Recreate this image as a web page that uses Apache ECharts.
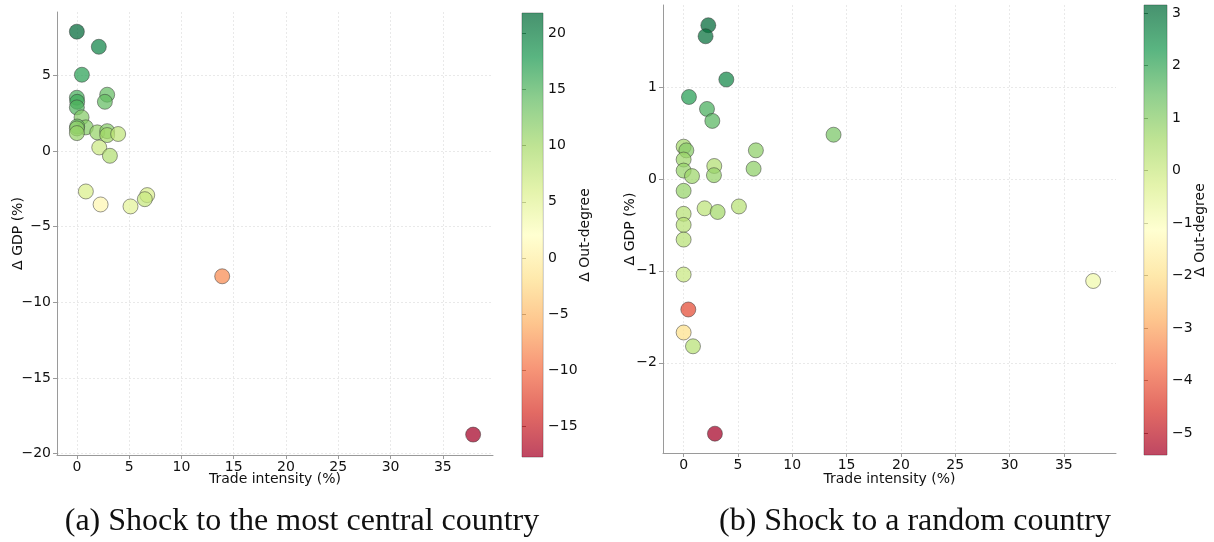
<!DOCTYPE html>
<html>
<head>
<meta charset="utf-8">
<script src="https://cdn.jsdelivr.net/npm/echarts@6/dist/echarts.min.js"></script>
<style>
  html, body { margin: 0; padding: 0; background: #fff; }
  #chart { width: 1214px; height: 542px; }
</style>
</head>
<body>
<div id="chart"></div>
<script>
// (a) shock to the most central country
const tradeA = [0, 2.1, 0.48, 0, 2.9, 2.68, 0.03, 0, 0.45, 0.86, 0.03, 0, 0, 1.95, 2.9, 2.9, 3.95, 2.14, 3.16, 0.86, 2.27, 5.13, 6.73, 6.5, 13.9, 37.9];
const gdpA = [7.9, 6.9, 5.05, 3.53, 3.73, 3.26, 3.26, 2.89, 2.23, 1.57, 1.63, 1.5, 1.19, 1.24, 1.32, 1.06, 1.13, 0.24, -0.31, -2.67, -3.53, -3.66, -2.91, -3.18, -8.28, -18.75];
const outDegA = [21.8, 19.5, 17, 15.5, 14, 14, 16, 15, 12, 12, 13.5, 11.5, 11, 11, 12, 10, 8, 7, 9, 6, 1, 5, 6, 7.5, -8, -17.7];

// (b) shock to a random country
const tradeB = [2.27, 2.02, 3.93, 0.49, 2.15, 2.64, 13.8, 0, 0.25, 6.65, 0, 2.82, 6.44, 0, 0.77, 2.79, 0, 1.93, 5.09, 3.13, 0, 0, 0, 0, 0.43, 0, 0.86, 2.88, 37.7];
const gdpB = [1.67, 1.55, 1.08, 0.89, 0.76, 0.63, 0.48, 0.35, 0.31, 0.31, 0.21, 0.14, 0.11, 0.09, 0.03, 0.04, -0.13, -0.32, -0.30, -0.36, -0.38, -0.50, -0.66, -1.04, -1.42, -1.67, -1.82, -2.77, -1.11];
const outDegB = [3.15, 3.0, 2.6, 2.2, 1.8, 1.6, 1.2, 0.6, 1.0, 0.9, 0.7, 0.4, 0.9, 0.8, 0.7, 0.8, 0.8, 0.2, 0.3, 0.6, 0.3, 0.3, 0.3, 0, -4.2, -2, 0.3, -5.42, -0.8];

// tick labels
const xTicks = [0, 5, 10, 15, 20, 25, 30, 35];
const yTicksA = [-20, -15, -10, -5, 0, 5];
const yTicksB = [-2, -1, 0, 1];
const cTicksA = [-15, -10, -5, 0, 5, 10, 15, 20];
const cTicksB = [-5, -4, -3, -2, -1, 0, 1, 2, 3];

const captionA = '(a) Shock to the most central country';
const captionB = '(b) Shock to a random country';

// RdYlGn colormap
const RDYLGN = ['#a50026', '#d73027', '#f46d43', '#fdae61', '#fee08b', '#ffffbf',
                '#d9ef8b', '#a6d96a', '#66bd63', '#1a9850', '#006837'];

const FONT = 'DejaVu Sans';
const minus = v => String(v).replace('-', '\u2212');

const rangeOf = arr => [Math.min(...arr), Math.max(...arr)];
const [cMinA, cMaxA] = rangeOf(outDegA);
const [cMinB, cMaxB] = rangeOf(outDegB);

const zip = (x, y, c) => x.map((v, i) => [v, y[i], c[i]]);

const gradient = () => new echarts.graphic.LinearGradient(0, 1, 0, 0,
  RDYLGN.map((c, i) => ({ offset: i / (RDYLGN.length - 1), color: c })));

function colorbarItem(params, api) {
  const lo = api.coord([0, api.value(1)]);
  const hi = api.coord([1, api.value(2)]);
  return {
    type: 'rect',
    shape: { x: lo[0], y: hi[1], width: hi[0] - lo[0], height: lo[1] - hi[1] },
    style: { fill: gradient(), opacity: 0.72 }
  };
}

const spine = { show: true, lineStyle: { color: '#9a9a9a', width: 1 } };
const grid = { show: true, lineStyle: { color: '#e4e4e4', width: 0.8, type: [2, 2] } };
const labelStyle = { color: '#111', fontFamily: FONT, fontSize: 14 };
const nameStyle = { color: '#111', fontFamily: FONT, fontSize: 14 };

function mainX(gridIndex, gap) {
  return {
    type: 'value', gridIndex, min: -1.9, max: 39.8,
    name: 'Trade intensity (%)', nameLocation: 'middle', nameGap: gap, nameMoveOverlap: false, nameTextStyle: nameStyle,
    axisLine: { ...spine, onZero: false },
    axisTick: { show: true, length: 4, lineStyle: { color: '#9a9a9a' }, customValues: xTicks },
    axisLabel: { ...labelStyle, margin: 5, formatter: minus, customValues: xTicks },
    splitLine: { ...grid, customValues: xTicks }
  };
}
function mainY(gridIndex, min, max, ticks, gap) {
  return {
    type: 'value', gridIndex, min, max,
    name: '\u0394 GDP (%)', nameLocation: 'middle', nameGap: gap, nameMoveOverlap: false, nameRotate: 90, nameTextStyle: nameStyle,
    axisLine: { ...spine, onZero: false },
    axisTick: { show: true, length: 4, lineStyle: { color: '#9a9a9a' }, customValues: ticks },
    axisLabel: { ...labelStyle, margin: 6, formatter: minus, customValues: ticks },
    splitLine: { ...grid, customValues: ticks }
  };
}
function barX(gridIndex) {
  return { type: 'value', gridIndex, min: 0, max: 1, show: false };
}
function barY(gridIndex, min, max, ticks, gap) {
  return {
    type: 'value', gridIndex, min, max, position: 'right',
    name: '\u0394 Out-degree', nameLocation: 'middle', nameGap: gap, nameMoveOverlap: false, nameRotate: 90, nameTextStyle: nameStyle,
    axisLine: { show: false },
    axisTick: { show: true, length: 4, lineStyle: { color: '#555' }, customValues: ticks },
    axisLabel: { ...labelStyle, margin: 5, formatter: minus, customValues: ticks },
    splitLine: { show: false }
  };
}

const scatterStyle = { opacity: 0.72, borderColor: '#333', borderWidth: 0.7 };
const captionStyle = { fontFamily: 'Liberation Serif', fontSize: 32, fill: '#111', textAlign: 'center', textVerticalAlign: 'middle' };

const option = {
  animation: false,
  backgroundColor: '#fff',
  textStyle: { fontFamily: FONT },
  grid: [
    { left: 57, top: 12, width: 436, height: 443 },
    { left: 522, top: 13, width: 21, height: 444, show: true, borderColor: '#a8a8a8', borderWidth: 1, backgroundColor: 'transparent' },
    { left: 663, top: 5, width: 453, height: 448 },
    { left: 1144, top: 5, width: 23, height: 450, show: true, borderColor: '#a8a8a8', borderWidth: 1, backgroundColor: 'transparent' }
  ],
  xAxis: [mainX(0, 17), barX(1), mainX(2, 19), barX(3)],
  yAxis: [
    mainY(0, -20.1, 9.2, yTicksA, 32),
    barY(1, cMinA, cMaxA, cTicksA, 35),
    mainY(2, -2.98, 1.89, yTicksB, 26),
    barY(3, cMinB, cMaxB, cTicksB, 26)
  ],
  visualMap: [
    { type: 'continuous', show: false, seriesIndex: 0, dimension: 2, min: cMinA, max: cMaxA, inRange: { color: RDYLGN } },
    { type: 'continuous', show: false, seriesIndex: 2, dimension: 2, min: cMinB, max: cMaxB, inRange: { color: RDYLGN } }
  ],
  series: [
    { type: 'scatter', xAxisIndex: 0, yAxisIndex: 0, symbolSize: 15, itemStyle: scatterStyle, data: zip(tradeA, gdpA, outDegA) },
    { type: 'custom', xAxisIndex: 1, yAxisIndex: 1, renderItem: colorbarItem, data: [[0, cMinA, cMaxA]], silent: true },
    { type: 'scatter', xAxisIndex: 2, yAxisIndex: 2, symbolSize: 15, itemStyle: scatterStyle, data: zip(tradeB, gdpB, outDegB) },
    { type: 'custom', xAxisIndex: 3, yAxisIndex: 3, renderItem: colorbarItem, data: [[0, cMinB, cMaxB]], silent: true }
  ],
  graphic: [
    { type: 'text', x: 302, y: 522, style: { text: captionA, ...captionStyle } },
    { type: 'text', x: 915, y: 522, style: { text: captionB, ...captionStyle } }
  ]
};

const chart = echarts.init(document.getElementById('chart'), null, { renderer: 'canvas' });
chart.setOption(option);
</script>
</body>
</html>
